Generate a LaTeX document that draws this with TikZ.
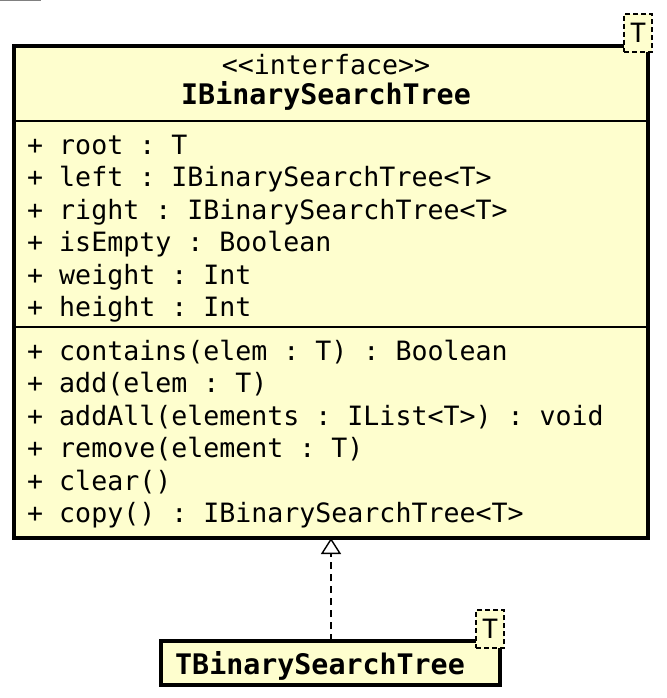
\documentclass[tikz,border=0pt]{standalone}
\usepackage{fontspec}
\setmonofont{DejaVu Sans Mono}
\usetikzlibrary{arrows.meta}
\definecolor{umlfill}{HTML}{FEFECE}
\begin{document}
\begin{tikzpicture}[x=1pt,y=-1pt,
  classbox/.style={draw=black, fill=umlfill, line width=3.2pt, inner sep=0pt, outer sep=0pt, anchor=north west},
  tparam/.style={draw=black, fill=umlfill, dash pattern=on 5pt off 3pt, line width=1.3pt, inner sep=0pt, outer sep=0pt, anchor=north west},
  sep/.style={line width=1.5pt},
  member/.style={anchor=base west, inner sep=0pt, font=\ttfamily\fontsize{26.6}{30}\selectfont},
  cname/.style={anchor=base, inner sep=0pt, font=\ttfamily\bfseries\fontsize{28.3}{30}\selectfont},
  stereo/.style={anchor=base, inner sep=0pt, font=\ttfamily\fontsize{26.6}{30}\selectfont},
  tlabel/.style={inner sep=0pt, font=\ttfamily\fontsize{26.6}{30}\selectfont},
  realize/.style={line width=1.4pt, dash pattern=on 7pt off 5pt, -{Triangle[open, length=16pt, width=20pt, line width=1.4pt]}}
]
\useasboundingbox (0,0) rectangle (666,698);
\draw[gray, line width=1pt] (0,1) -- (41,1);

% interface box
\node[classbox, minimum width=634pt, minimum height=492pt] (iface) at (14,46) {};
\node[tparam, minimum width=28pt, minimum height=38pt] (ifaceT) at (624,14) {};
\node[tlabel] (ifaceTl) at (ifaceT.center) {T};
\node[stereo] (st) at (326,75) {<{}<interface>{}>};
\node[cname] (nm) at (326,105) {IBinarySearchTree};
\draw[sep] (iface.west |- 0,121) coordinate (s1a) -- (iface.east |- 0,121) coordinate (s1b);
\draw[sep] (iface.west |- 0,327) coordinate (s2a) -- (iface.east |- 0,327) coordinate (s2b);

\node[member] (a1) at (27,154)   {+ root : T};
\node[member] (a2) at (27,186.5) {+ left : IBinarySearchTree<T>};
\node[member] (a3) at (27,219)   {+ right : IBinarySearchTree<T>};
\node[member] (a4) at (27,251.5) {+ isEmpty : Boolean};
\node[member] (a5) at (27,284)   {+ weight : Int};
\node[member] (a6) at (27,316.5) {+ height : Int};

\node[member] (m1) at (27,360)   {+ contains(elem : T) : Boolean};
\node[member] (m2) at (27,392.5) {+ add(elem : T)};
\node[member] (m3) at (27,425)   {+ addAll(elements : IList<T>) : void};
\node[member] (m4) at (27,457.5) {+ remove(element : T)};
\node[member] (m5) at (27,490)   {+ clear()};
\node[member] (m6) at (27,522.5) {+ copy() : IBinarySearchTree<T>};

% implementation box
\node[classbox, minimum width=339pt, minimum height=44pt] (impl) at (161,641) {};
\node[tparam, minimum width=28pt, minimum height=38pt] (implT) at (476,610) {};
\node[tlabel] (implTl) at (implT.center) {T};
\node[cname] (implname) at (320,674) {TBinarySearchTree};

% realization
\coordinate (implTop) at (331,641);
\draw[realize] (implTop) -- (implTop |- iface.south);
\end{tikzpicture}
\end{document}
